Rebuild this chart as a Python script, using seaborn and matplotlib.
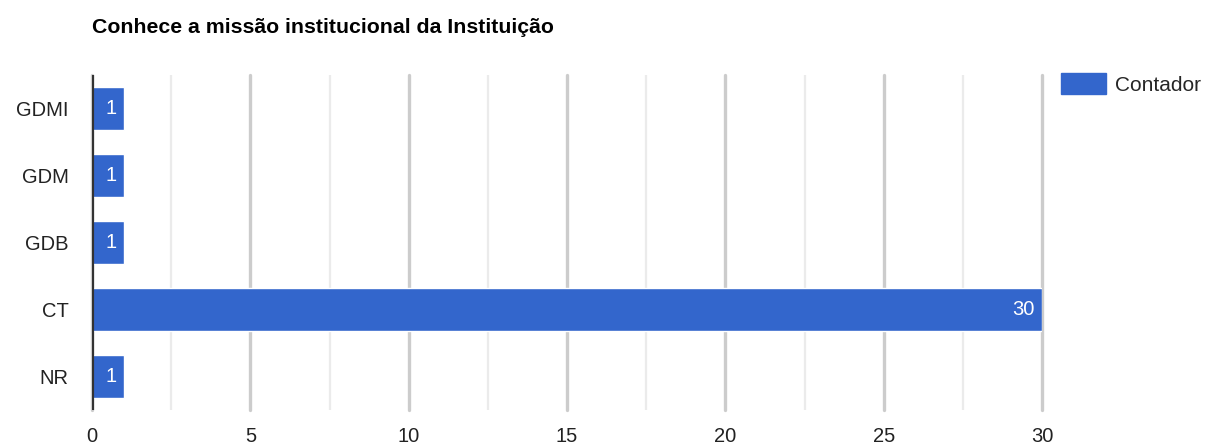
import matplotlib
matplotlib.use("Agg")
import matplotlib.pyplot as plt
from matplotlib.patches import Patch
from matplotlib.ticker import MultipleLocator
import seaborn as sns
import pandas as pd

title = "Conhece a missão institucional da Instituição"
categories = ["GDMI", "GDM", "GDB", "CT", "NR"]
counts = [1, 1, 1, 30, 1]
series_name = "Contador"
x_ticks = [0, 5, 10, 15, 20, 25, 30]

sns.set_theme(style="white")
plt.rcParams["font.family"] = ["Liberation Sans", "DejaVu Sans"]

df = pd.DataFrame({"categoria": categories, "valor": counts})
bar_color = "#3366cc"

fig = plt.figure(figsize=(12.08, 4.44), dpi=100)
ax = fig.add_axes([0.0762, 0.0766, 0.7864, 0.7544])

sns.barplot(data=df, x="valor", y="categoria", orient="h", color=bar_color,
            width=0.64, saturation=1, ax=ax, zorder=3)

ax.set_xlim(0, 30)
ax.set_ylim(4.5, -0.5)
ax.xaxis.set_major_locator(MultipleLocator(5))
ax.xaxis.set_minor_locator(MultipleLocator(2.5))
ax.set_xticks(x_ticks)
ax.grid(axis="x", which="major", color="#cccccc", linewidth=2.4, zorder=0)
ax.grid(axis="x", which="minor", color="#ebebeb", linewidth=1.6, zorder=0)
ax.grid(axis="y", visible=False)
for gl in ax.get_xgridlines():
    gl.set_clip_on(False)
ax.axvline(0, color="#333333", linewidth=3, zorder=4)
for s in ax.spines.values():
    s.set_visible(False)

ax.set_xlabel("")
ax.set_ylabel("")
ax.tick_params(axis="both", which="both", length=0, labelsize=14.5, colors="#222222")
ax.tick_params(axis="x", pad=12)
ax.tick_params(axis="y", pad=17)

# value labels inside the end of each bar
for i, v in enumerate(counts):
    ax.annotate(str(v), xy=(v, i), xytext=(-5, 0), textcoords="offset points",
                ha="right", va="center", color="white", fontsize=14.5, zorder=5)

fig.text(0.0762, 0.939, title, fontsize=15.3, fontweight="bold", color="#000000",
         ha="left", va="center")

handle = Patch(facecolor=bar_color, edgecolor=bar_color)
fig.legend([handle], [series_name], loc="upper left",
           bbox_to_anchor=(0.878, 0.835), frameon=False, fontsize=15,
           handlelength=2.16, handleheight=1.15, handletextpad=0.43, borderaxespad=0,
           borderpad=0)

fig.savefig("out.png", dpi=100)
